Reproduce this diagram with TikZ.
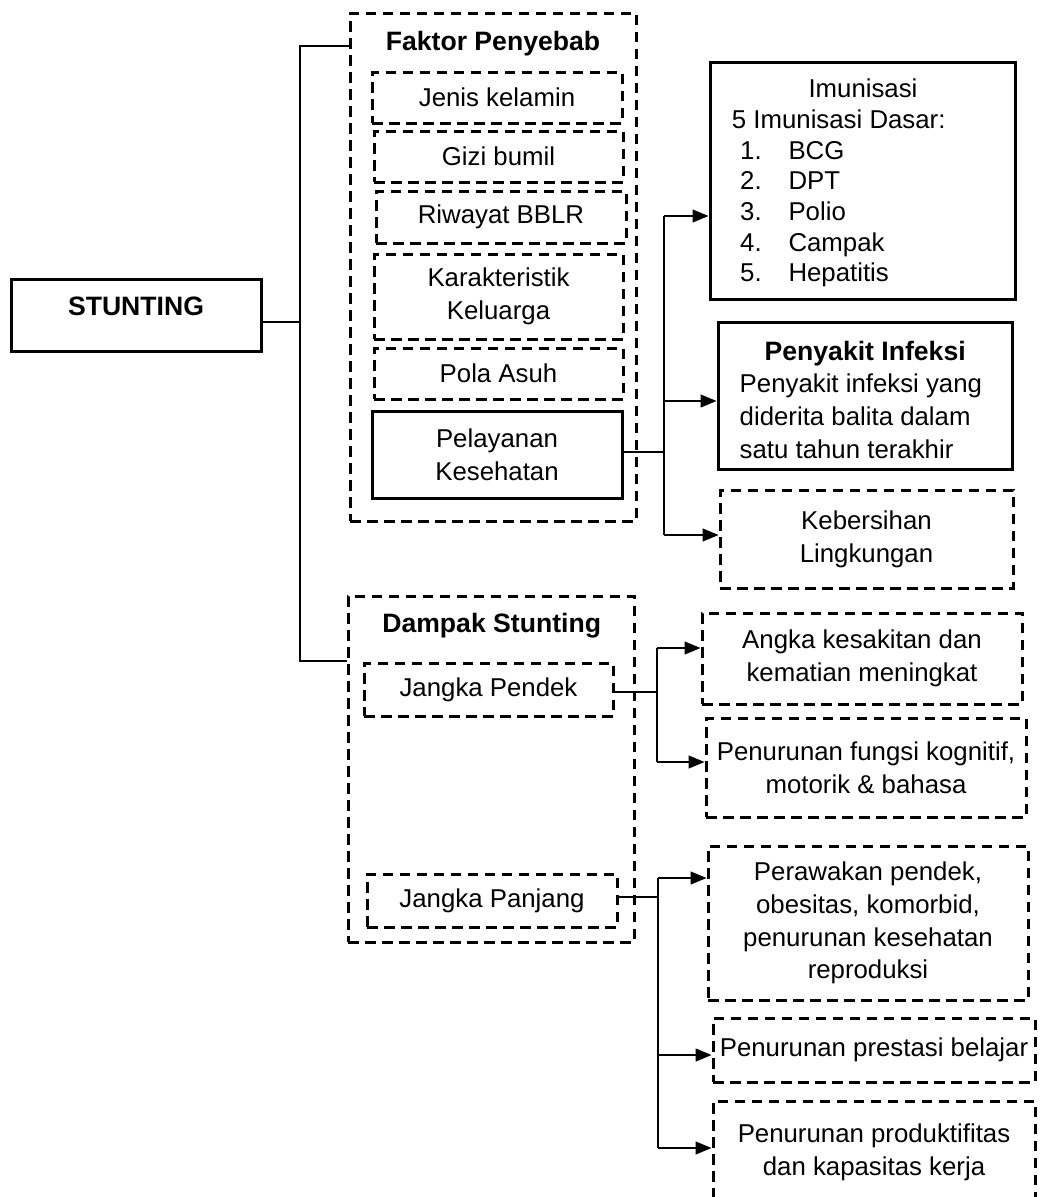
\documentclass[tikz,border=0pt]{standalone}
\usepackage{fontspec}
\setmainfont{Liberation Sans}
\usetikzlibrary{arrows.meta}
\newcommand\boldtxt{\fontsize{26.6pt}{32.7pt}\selectfont\bfseries}
\tikzset{
  bx/.style={draw, line width=3pt, inner sep=0pt, align=center, font=\fontsize{25.8pt}{32.7pt}\selectfont},
  dbx/.style={bx, dash pattern=on 10.5pt off 6.5pt},
  conn/.style={line width=1.3pt},
  arr/.style={conn, -{Triangle[length=16pt,width=13pt]}},
  ttl/.style={font=\boldtxt, anchor=base, inner sep=0pt},
  ltxt/.style={anchor=north west, inner sep=0pt, align=left},
}
\begin{document}
\begin{tikzpicture}[x=1pt,y=-1pt]
\path[use as bounding box, fill=white] (0,0) rectangle (1043,1197);
\clip (0,0) rectangle (1043,1197);

% root
\node[bx, minimum width=250pt, minimum height=72pt, font=\boldtxt, text height=12pt, text depth=12pt] (stunting) at (136,315) {STUNTING};

% Faktor Penyebab group
\node[dbx, minimum width=286pt, minimum height=508pt] (faktor) at (493,267) {};
\node[ttl] (faktorT) at (493,50.2) {Faktor Penyebab};
\node[dbx, minimum width=250pt, minimum height=51pt] (jk) at (497,97.5) {Jenis kelamin};
\node[dbx, minimum width=249pt, minimum height=51pt] (gb) at (498.5,156.5) {Gizi bumil};
\node[dbx, minimum width=250pt, minimum height=52pt] (rb) at (501,217) {Riwayat BBLR};
\node[dbx, minimum width=249pt, minimum height=85pt] (kk) at (498.5,296.5) {Karakteristik\\Keluarga};
\node[dbx, minimum width=249pt, minimum height=51pt] (pa) at (498.5,373.5) {Pola Asuh};
\node[bx, minimum width=250pt, minimum height=87pt] (pk) at (497,454.5) {Pelayanan\\Kesehatan};

% right column (health services)
\node[bx, minimum width=305pt, minimum height=237pt] (im) at (862.5,181) {};
\node[ltxt, font=\fontsize{25.8pt}{30.7pt}\selectfont] (imT) at (731.7,78.8)
  {\hspace*{76.6pt}Imunisasi\\
   5 Imunisasi Dasar:\\
   \hspace*{8.3pt}\makebox[48.3pt][l]{1.}BCG\\
   \hspace*{8.3pt}\makebox[48.3pt][l]{2.}DPT\\
   \hspace*{8.3pt}\makebox[48.3pt][l]{3.}Polio\\
   \hspace*{8.3pt}\makebox[48.3pt][l]{4.}Campak\\
   \hspace*{8.3pt}\makebox[48.3pt][l]{5.}Hepatitis};
\node[bx, minimum width=294pt, minimum height=147.5pt] (pi) at (865,395.75) {};
\node[ltxt, font=\fontsize{25.8pt}{32.7pt}\selectfont] (piT) at (739.5,340.8)
  {\makebox[251pt][c]{\boldtxt Penyakit Infeksi}\\
   Penyakit infeksi yang\\
   diderita balita dalam\\
   satu tahun terakhir};
\node[dbx, minimum width=293pt, minimum height=98pt] (kl) at (866.5,539) {Kebersihan\\Lingkungan};

% Dampak Stunting group
\node[dbx, minimum width=286pt, minimum height=346pt] (dampak) at (491,769) {};
\node[ttl] (dampakT) at (491.7,632.2) {Dampak Stunting};
\node[dbx, minimum width=249pt, minimum height=53pt] (jp) at (488.5,689.5) {Jangka Pendek};
\node[dbx, minimum width=250pt, minimum height=53pt] (jpj) at (492,900.5) {Jangka Panjang};

% right column (impacts)
\node[dbx, minimum width=320pt, minimum height=91pt] (ak) at (862,658.5) {Angka kesakitan dan\\kematian meningkat};
\node[dbx, minimum width=320pt, minimum height=99pt] (pf) at (866,767.5) {Penurunan fungsi kognitif,\\motorik \& bahasa};
\node[dbx, minimum width=320pt, minimum height=154pt] (pp) at (868,923) {Perawakan pendek,\\obesitas, komorbid,\\penurunan kesehatan\\reproduksi};
\node[dbx, minimum width=322pt, minimum height=64pt] (pb) at (874,1050) {Penurunan prestasi belajar};
\node[dbx, minimum width=322pt, minimum height=102pt] (pr) at (874,1152) {Penurunan produktifitas\\dan kapasitas kerja};

% trunk from STUNTING
\coordinate (t1) at (300,46);
\coordinate (t2) at (300,322);
\coordinate (t3) at (300,661);
\draw[conn] (stunting.east |- t2) -- (t2);
\draw[conn] (t1 -| faktor.west) -- (t1) -- (t3) -- (t3 -| dampak.west);

% Pelayanan Kesehatan branches
\coordinate (b1) at (664,216);
\coordinate (b2) at (664,452);
\coordinate (b3) at (664,401);
\coordinate (b4) at (664,535);
\draw[conn] (pk.east |- b2) -- (b2);
\draw[conn] (b1) -- (b4);
\draw[arr] (b1) -- (im.west |- b1);
\draw[arr] (b3) -- (pi.west |- b3);
\draw[arr] (b4) -- (kl.west |- b4);

% Jangka Pendek branches
\coordinate (c1) at (657,648);
\coordinate (c2) at (657,692);
\coordinate (c3) at (657,762);
\draw[conn] (jp.east |- c2) -- (c2);
\draw[conn] (c1) -- (c3);
\draw[arr] (c1) -- (ak.west |- c1);
\draw[arr] (c3) -- (pf.west |- c3);

% Jangka Panjang branches
\coordinate (d1) at (658,878);
\coordinate (d2) at (658,897);
\coordinate (d3) at (658,1055);
\coordinate (d4) at (658,1148);
\draw[conn] (jpj.east |- d2) -- (d2);
\draw[conn] (d1) -- (d4);
\draw[arr] (d1) -- (pp.west |- d1);
\draw[arr] (d3) -- (pb.west |- d3);
\draw[arr] (d4) -- (pr.west |- d4);
\end{tikzpicture}
\end{document}
